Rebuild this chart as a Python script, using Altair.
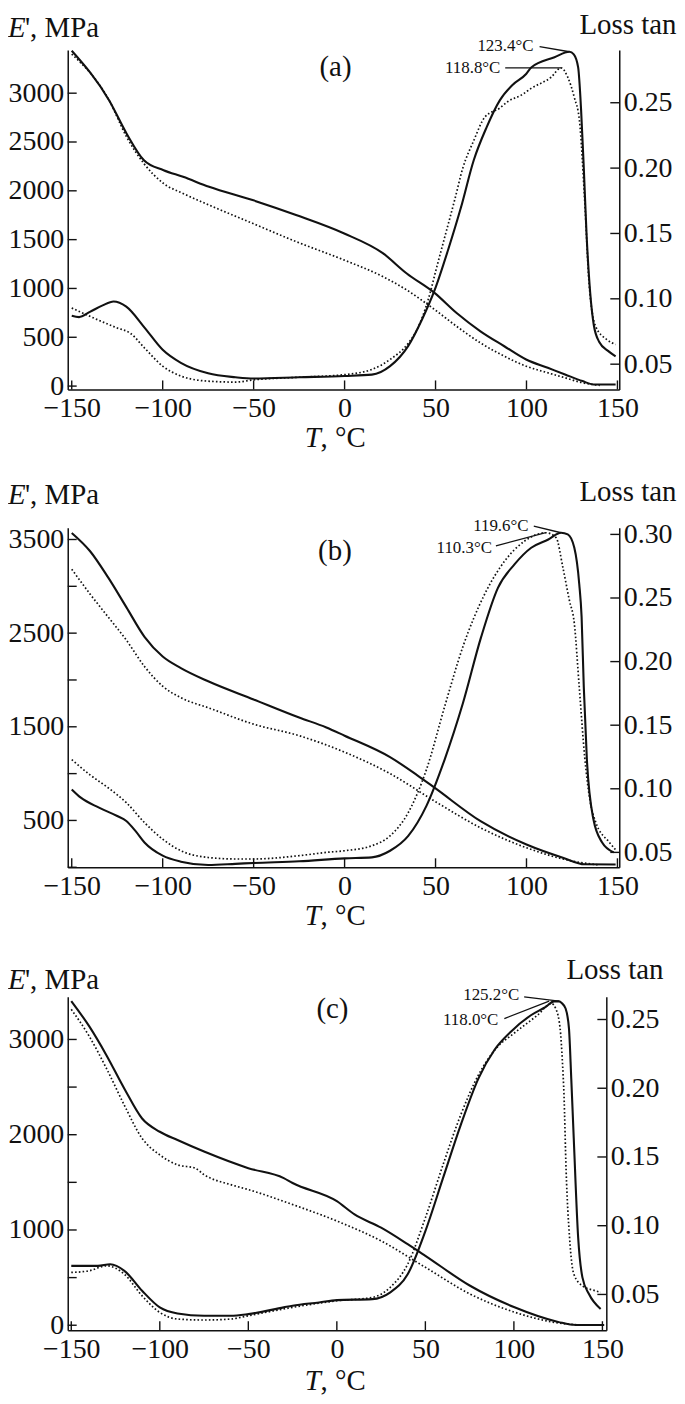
import altair as alt
import pandas as pd

FONT = "Liberation Serif"
INK = "#111111"
X_TICKS = [-150, -100, -50, 0, 50, 100, 150]
TICK = 9

# ---------------- panel (a) ----------------
A_E1_T = [-150, -129.4, -119.8, -110.3, -99.5, -88.8, -74.5, -50.6, -26.7, -0.5, 21, 34, 49.6, 61.6, 74.7, 87.8, 99.8, 111.7, 121.2, 130.8, 136.8, 149]
A_E1 = [3435, 2925, 2585, 2313, 2211, 2143, 2041, 1905, 1752, 1565, 1361, 1156, 952, 748, 561, 408, 272, 187, 119, 51, 17, 17]
A_E2_T = [-150, -129.4, -119.8, -110.3, -99.5, -88.8, -74.5, -50.6, -26.7, -0.5, 21, 34, 49.6, 61.6, 74.7, 87.8, 99.8, 111.7, 121.2, 130.8, 140.3]
A_E2 = [3401, 2925, 2551, 2279, 2075, 1973, 1854, 1667, 1480, 1293, 1122, 986, 782, 612, 442, 306, 204, 136, 85, 34, 7]
A_D1_T = [-150, -146, -140, -133, -127, -120, -110, -100, -90, -75, -60, -50, -25, 0, 15, 25, 35, 42.5, 49.6, 56.8, 64, 71, 78, 85.4, 92.6, 99.8, 102.6, 115.4, 123.6, 126, 128.4, 130, 131.5, 133, 135, 137, 140, 145, 149]
A_D1 = [0.087, 0.086, 0.090, 0.095, 0.098, 0.094, 0.078, 0.061, 0.051, 0.043, 0.040, 0.039, 0.040, 0.041, 0.042, 0.0485, 0.064, 0.084, 0.107, 0.137, 0.170, 0.206, 0.231, 0.252, 0.264, 0.272, 0.277, 0.2848, 0.289, 0.287, 0.277, 0.245, 0.20, 0.15, 0.105, 0.080, 0.067, 0.060, 0.056]
A_D2_T = [-150, -140, -125, -118, -110, -100, -90, -75, -60, -50, -25, 0, 15, 25, 35, 40, 46, 50.8, 55.6, 60.4, 65, 71, 77.1, 85.4, 89.8, 97.4, 102.6, 113.5, 119, 122.7, 126.3, 129.1, 132, 134.4, 138, 144, 149]
A_D2 = [0.093, 0.0866, 0.0777, 0.0739, 0.0624, 0.0485, 0.0409, 0.037, 0.0363, 0.038, 0.040, 0.042, 0.046, 0.0536, 0.066, 0.077, 0.0995, 0.125, 0.150, 0.175, 0.200, 0.221, 0.239, 0.246, 0.251, 0.256, 0.261, 0.2695, 0.2767, 0.2695, 0.254, 0.2365, 0.175, 0.112, 0.079, 0.069, 0.065]

# ---------------- panel (b) ----------------
B_E1_T = [-150, -140, -130, -120, -110, -100, -90, -75, -50, -25, -10, 0, 25, 40, 50, 75, 100, 120, 132, 149]
B_E1 = [3570, 3377, 3095, 2778, 2461, 2250, 2127, 1986, 1792, 1599, 1493, 1405, 1176, 982, 842, 489, 243, 102, 32, 30]
B_E2_T = [-150, -140, -130, -120, -110, -100, -90, -75, -50, -25, 0, 25, 50, 75, 100, 125, 140]
B_E2 = [3183, 2919, 2673, 2426, 2144, 1933, 1810, 1704, 1528, 1405, 1229, 1000, 700, 419, 208, 67, 25]
B_D1_T = [-150, -145, -135, -125, -120, -115, -110, -100, -90, -75, -60, -50, -25, 0, 15, 25, 35, 45, 55, 65, 75, 84.3, 93.5, 102.6, 112, 119, 122.7, 126.3, 129, 130.3, 131.5, 133.2, 136.8, 141.5, 148]
B_D1 = [0.0995, 0.093, 0.0852, 0.0786, 0.0747, 0.0669, 0.0578, 0.0474, 0.0427, 0.0401, 0.041, 0.0417, 0.043, 0.0453, 0.0461, 0.0513, 0.063, 0.0866, 0.123, 0.167, 0.219, 0.258, 0.2766, 0.2895, 0.296, 0.3013, 0.300, 0.2895, 0.261, 0.235, 0.18, 0.123, 0.076, 0.058, 0.05]
B_D2_T = [-150, -140, -130, -120, -110, -100, -90, -75, -60, -50, -25, -10, 0, 15, 25, 35, 45, 55, 65, 77, 88, 99, 110.8, 116.3, 120, 123.6, 126.3, 129, 132, 135, 138, 145.5, 149]
B_D2 = [0.1229, 0.111, 0.1008, 0.0891, 0.0734, 0.0604, 0.0513, 0.046, 0.0448, 0.0448, 0.0474, 0.05, 0.0513, 0.0552, 0.063, 0.0813, 0.1151, 0.1646, 0.2115, 0.253, 0.279, 0.2948, 0.3013, 0.2974, 0.274, 0.248, 0.230, 0.18, 0.125, 0.09, 0.074, 0.058, 0.052]

# ---------------- panel (c) ----------------
C_E1_T = [-150, -140, -130, -120, -110, -100, -90, -75, -50, -30, -25, 0, 10, 25, 40, 50, 75, 100, 125, 135, 151]
C_E1 = [3403, 3142, 2830, 2483, 2170, 2031, 1944, 1823, 1649, 1545, 1493, 1302, 1163, 1024, 851, 729, 417, 191, 35, 2, 2]
C_E2_T = [-150, -140, -130, -120, -110, -100, -90, -80, -75, -60, -50, -25, 0, 25, 50, 75, 100, 125, 140]
C_E2 = [3316, 3038, 2691, 2309, 1962, 1788, 1684, 1649, 1580, 1476, 1424, 1267, 1094, 885, 608, 330, 139, 24, 0]
C_D1_T = [-150, -135, -128, -120, -110, -100, -90, -75, -60, -50, -30, -25, -10, 0, 20, 30, 40, 50, 60, 70, 80, 89, 98.3, 109.6, 118, 122.7, 125.5, 127, 129.2, 131.1, 132.4, 133.8, 136.3, 138.7, 142.4, 149]
C_D1 = [0.0708, 0.0708, 0.072, 0.0672, 0.0527, 0.0406, 0.0362, 0.0345, 0.0345, 0.0357, 0.0406, 0.0418, 0.0442, 0.0459, 0.0466, 0.0514, 0.0647, 0.0961, 0.1348, 0.1734, 0.2072, 0.2278, 0.2411, 0.2531, 0.2592, 0.2632, 0.2632, 0.262, 0.258, 0.2435, 0.207, 0.1638, 0.0913, 0.0624, 0.0503, 0.0394]
C_D2_T = [-150, -140, -130, -120, -110, -100, -90, -75, -60, -50, -25, 0, 20, 30, 40, 50, 60, 70, 80, 90, 100, 113.3, 121.2, 123.6, 126.1, 127.4, 128.3, 129.5, 131.4, 133.8, 138.7, 146, 149]
C_D2 = [0.066, 0.0672, 0.0708, 0.0647, 0.049, 0.0369, 0.0321, 0.0314, 0.0321, 0.0345, 0.0406, 0.0454, 0.0478, 0.055, 0.072, 0.1058, 0.1444, 0.1807, 0.2097, 0.229, 0.2399, 0.2531, 0.2616, 0.258, 0.2435, 0.2194, 0.195, 0.14, 0.092, 0.065, 0.0563, 0.0527, 0.0515]

# peak annotations: label, text-end T, text tan, line from (T, tan) to (T2, tan2)
A_ANN = [("123.4°C", 104.4, 0.2937, 107.2, 0.2929, 123.6, 0.289),
         ("118.8°C", 86.2, 0.2767, 88.3, 0.2767, 119.0, 0.2767)]
B_ANN = [("119.6°C", 101.7, 0.3065, 104.0, 0.3065, 119.0, 0.3013),
         ("110.3°C", 81.6, 0.2895, 83.2, 0.2910, 110.6, 0.3013)]
C_ANN = [("125.2°C", 103.6, 0.2676, 105.8, 0.2664, 125.5, 0.2633),
         ("118.0°C", 91.8, 0.2495, 94.6, 0.2507, 119.9, 0.2633)]


def xenc(dom):
    return alt.X("T:Q", scale=alt.Scale(domain=dom, nice=False, zero=False),
                 axis=alt.Axis(values=X_TICKS, title=None, labelFlush=False,
                               labelPadding=5, labelOverlap=False, format="d"))


def yenc(dom, orient, labels, fmt):
    return alt.Y("v:Q", scale=alt.Scale(domain=dom, nice=False, zero=False),
                 axis=alt.Axis(orient=orient, values=labels, format=fmt, title=None,
                               labelPadding=4, labelOverlap=False, labelFlush=False))


def curve(ts, vs, xe, ye, dotted):
    df = pd.DataFrame({"T": ts, "v": vs})
    if dotted:
        m = alt.Chart(df).mark_line(color=INK, strokeWidth=1.7, strokeDash=[1.6, 2.2],
                                    interpolate="monotone")
    else:
        m = alt.Chart(df).mark_line(color=INK, strokeWidth=2.1, interpolate="monotone")
    return m.encode(x=xe, y=ye)


def fixed_text(txt, x, y, italic=False, size=29, align="left"):
    return alt.Chart(pd.DataFrame({"s": [txt]})).mark_text(
        font=FONT, fontSize=size, fontStyle="italic" if italic else "normal",
        align=align, baseline="alphabetic", color=INK
    ).encode(text="s:N", x=alt.value(x), y=alt.value(y))


def panel(letter, W, H, dom_x, dom_E, dom_tan, E_lab, E_tk, tan_lab, curves_E, curves_tan,
          ann, letter_pos, e_title_y, tan_title_y, t_title_y):
    xe = xenc(dom_x)
    yE = yenc(dom_E, "left", E_lab, "d")
    yT = yenc(dom_tan, "right", tan_lab, ".2f")

    E_layers = [curve(t, v, xe, yE, d) for (t, v, d) in curves_E]
    E_layers.append(alt.Chart(pd.DataFrame({"v": E_tk})).mark_rule(color=INK, strokeWidth=1.4)
                    .encode(y=yE, x=alt.value(0), x2=alt.value(TICK)))
    E_layers.append(alt.Chart(pd.DataFrame({"T": X_TICKS})).mark_rule(color=INK, strokeWidth=1.4)
                    .encode(x=xe, y=alt.value(H - TICK), y2=alt.value(H)))
    E_layers.append(alt.Chart(pd.DataFrame({"T": [letter_pos[0]], "v": [letter_pos[1]], "s": [letter]}))
                    .mark_text(font=FONT, fontSize=29, align="center", baseline="middle", color=INK)
                    .encode(x=xe, y=yE, text="s:N"))
    E_layers.append(fixed_text("E", -60, e_title_y, italic=True))
    E_layers.append(fixed_text("', MPa", -43, e_title_y))
    E_layers.append(fixed_text("T", 238, H + t_title_y, italic=True))
    E_layers.append(fixed_text(", °C", 254, H + t_title_y))

    T_layers = [curve(t, v, xe, yT, d) for (t, v, d) in curves_tan]
    T_layers.append(alt.Chart(pd.DataFrame({"v": tan_lab})).mark_rule(color=INK, strokeWidth=1.4)
                    .encode(y=yT, x=alt.value(W - TICK), x2=alt.value(W)))
    ann_df = pd.DataFrame({"s": [a[0] for a in ann], "T": [a[1] for a in ann], "v": [a[2] for a in ann]})
    line_df = pd.DataFrame({"T": [a[3] for a in ann], "v": [a[4] for a in ann],
                            "T2": [a[5] for a in ann], "v2": [a[6] for a in ann]})
    T_layers.append(alt.Chart(line_df).mark_rule(color=INK, strokeWidth=1.3)
                    .encode(x=xe, y=yT, x2="T2:Q", y2="v2:Q"))
    T_layers.append(alt.Chart(ann_df).mark_text(font=FONT, fontSize=17, align="right",
                                                baseline="middle", color=INK, dx=-1)
                    .encode(x=xe, y=yT, text="s:N"))
    T_layers.append(fixed_text("Loss tan", W - 40, tan_title_y))

    return alt.layer(alt.layer(*E_layers), alt.layer(*T_layers)).resolve_scale(
        y="independent").properties(width=W, height=H)


pa = panel("(a)", 554, 341, [-152.2, 151.0], [-34, 3443], [0.0307, 0.2904],
           [0, 500, 1000, 1500, 2000, 2500, 3000], [0, 500, 1000, 1500, 2000, 2500, 3000],
           [0.05, 0.10, 0.15, 0.20, 0.25],
           [(A_E1_T, A_E1, False), (A_E2_T, A_E2, True)],
           [(A_D1_T, A_D1, False), (A_D2_T, A_D2, True)],
           A_ANN, (-5, 3265), -13, -16, 58)

pb = panel("(b)", 554, 341, [-152.2, 151.0], [0, 3625], [0.0383, 0.3052],
           [500, 1500, 2500, 3500], [0, 500, 1000, 1500, 2000, 2500, 3000, 3500],
           [0.05, 0.10, 0.15, 0.20, 0.25, 0.30],
           [(B_E1_T, B_E1, False), (B_E2_T, B_E2, True)],
           [(B_D1_T, B_D1, False), (B_D2_T, B_D2, True)],
           B_ANN, (-5.3, 3377), -24, -27, 58)

pc = panel("(c)", 541, 335, [-152.0, 152.2], [-52, 3449], [0.024, 0.2666],
           [0, 1000, 2000, 3000], [0, 500, 1000, 1500, 2000, 2500, 3000],
           [0.05, 0.10, 0.15, 0.20, 0.25],
           [(C_E1_T, C_E1, False), (C_E2_T, C_E2, True)],
           [(C_D1_T, C_D1, False), (C_D2_T, C_D2, True)],
           C_ANN, (-2.5, 3316), -8, -18, 60)

chart = alt.vconcat(pa, pb, pc, spacing=25).properties(
    padding={"left": 0, "top": 0, "right": 0, "bottom": 0}
).configure_view(stroke=None).configure_axis(
    domainColor=INK, domainWidth=1.5, labelColor=INK, labelFont=FONT, labelFontSize=28,
    ticks=False, grid=False
)

chart.save("out.html", embed_options={"renderer": "svg", "actions": False})
